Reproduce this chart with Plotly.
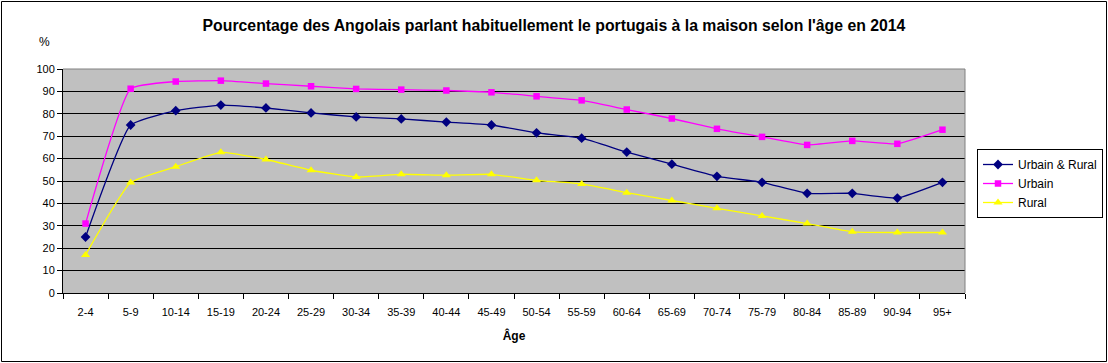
import plotly.graph_objects as go

ages = ["2-4", "5-9", "10-14", "15-19", "20-24", "25-29", "30-34", "35-39", "40-44",
        "45-49", "50-54", "55-59", "60-64", "65-69", "70-74", "75-79", "80-84",
        "85-89", "90-94", "95+"]
urbain_rural = [25, 75, 81.4, 83.9, 82.6, 80.4, 78.6, 77.7, 76.3, 75, 71.5, 69.1,
                62.9, 57.5, 52.1, 49.4, 44.5, 44.5, 42.4, 49.4]
urbain = [31, 91.2, 94.4, 94.8, 93.5, 92.3, 91.1, 90.8, 90.4, 89.6, 87.8, 86,
          81.9, 77.9, 73.3, 69.7, 66.1, 67.9, 66.6, 72.9]
rural = [17, 49.3, 56.4, 62.8, 59.6, 54.8, 51.8, 53, 52.6, 53, 50.3, 48.7,
         44.8, 41.3, 37.8, 34.4, 31, 27.3, 27, 27]
y_ticks = list(range(0, 101, 10))

FONT = "Liberation Sans, Arial, sans-serif"
SMOOTH = 0.4

fig = go.Figure()
fig.add_trace(go.Scatter(x=ages, y=urbain_rural, name="Urbain & Rural", mode="lines+markers",
                         line=dict(color="#000080", width=1.3, shape="spline", smoothing=SMOOTH),
                         marker=dict(symbol="diamond", size=7.5, color="#000080")))
fig.add_trace(go.Scatter(x=ages, y=urbain, name="Urbain", mode="lines+markers",
                         line=dict(color="#FF00FF", width=1.3, shape="spline", smoothing=SMOOTH),
                         marker=dict(symbol="square", size=6.5, color="#FF00FF")))
fig.add_trace(go.Scatter(x=ages, y=rural, name="Rural", mode="lines+markers",
                         line=dict(color="#FFFF00", width=1.3, shape="spline", smoothing=SMOOTH),
                         marker=dict(symbol="triangle-up", size=8, color="#FFFF00")))

W, H = 1108, 363
L, R, T, B = 63, 143, 69, 70
pw, ph = W - L - R, H - T - B

def px_x(p):
    return (p - L) / pw

def px_y(p):
    return (H - B - p) / ph

fig.update_layout(
    width=W, height=H,
    margin=dict(l=L, r=R, t=T, b=B, autoexpand=False),
    paper_bgcolor="white",
    plot_bgcolor="#C0C0C0",
    font=dict(family=FONT, size=11, color="black"),
    title=dict(text="<b>Pourcentage des Angolais parlant habituellement le portugais à la maison selon l'âge en 2014</b>",
               x=0.5, xref="container", xanchor="center", y=1 - 25 / H, yanchor="middle",
               font=dict(family=FONT, size=15.8, color="black")),
    xaxis=dict(type="category", categoryorder="array", categoryarray=ages,
               range=[-0.5, len(ages) - 0.5],
               showgrid=False, showline=True, linecolor="black", linewidth=1,
               ticks="outside", tickson="boundaries", ticklen=5, tickcolor="black",
               ticklabelstandoff=9,
               tickfont=dict(family=FONT, size=11),
               title=dict(text="<b>Âge</b>", font=dict(family=FONT, size=12), standoff=14),
               zeroline=False, fixedrange=True),
    yaxis=dict(range=[0, 100], tickvals=y_ticks, showgrid=True, gridcolor="black", gridwidth=1,
               showline=True, linecolor="black", linewidth=1,
               ticks="outside", ticklen=5, tickcolor="black",
               tickfont=dict(family=FONT, size=11), zeroline=False, fixedrange=True),
    legend=dict(x=px_x(977), y=px_y(149), xanchor="left", yanchor="top",
                bordercolor="black", borderwidth=1, bgcolor="white",
                font=dict(family=FONT, size=12), itemwidth=30, tracegroupgap=0),
    showlegend=True,
)

shapes = [
    dict(type="line", xref="paper", yref="paper", x0=0, x1=1, y0=1, y1=1,
         line=dict(color="#808080", width=1), layer="above"),
    dict(type="line", xref="paper", yref="paper", x0=1, x1=1, y0=0, y1=1,
         line=dict(color="#808080", width=1), layer="above"),
    dict(type="rect", xref="paper", yref="paper",
         x0=px_x(1.5), x1=px_x(W - 1.5), y0=px_y(H - 1.5), y1=px_y(1.5),
         line=dict(color="black", width=1), fillcolor="rgba(0,0,0,0)", layer="above"),
]
fig.update_layout(shapes=shapes)

fig.add_annotation(text="%", xref="paper", yref="paper", x=px_x(44), y=px_y(42),
                   xanchor="center", yanchor="middle", showarrow=False,
                   font=dict(family=FONT, size=12, color="black"))

fig.write_html("out.html", config={"displayModeBar": False},
               post_script="document.body.style.margin='0';document.body.style.overflow='hidden';")
